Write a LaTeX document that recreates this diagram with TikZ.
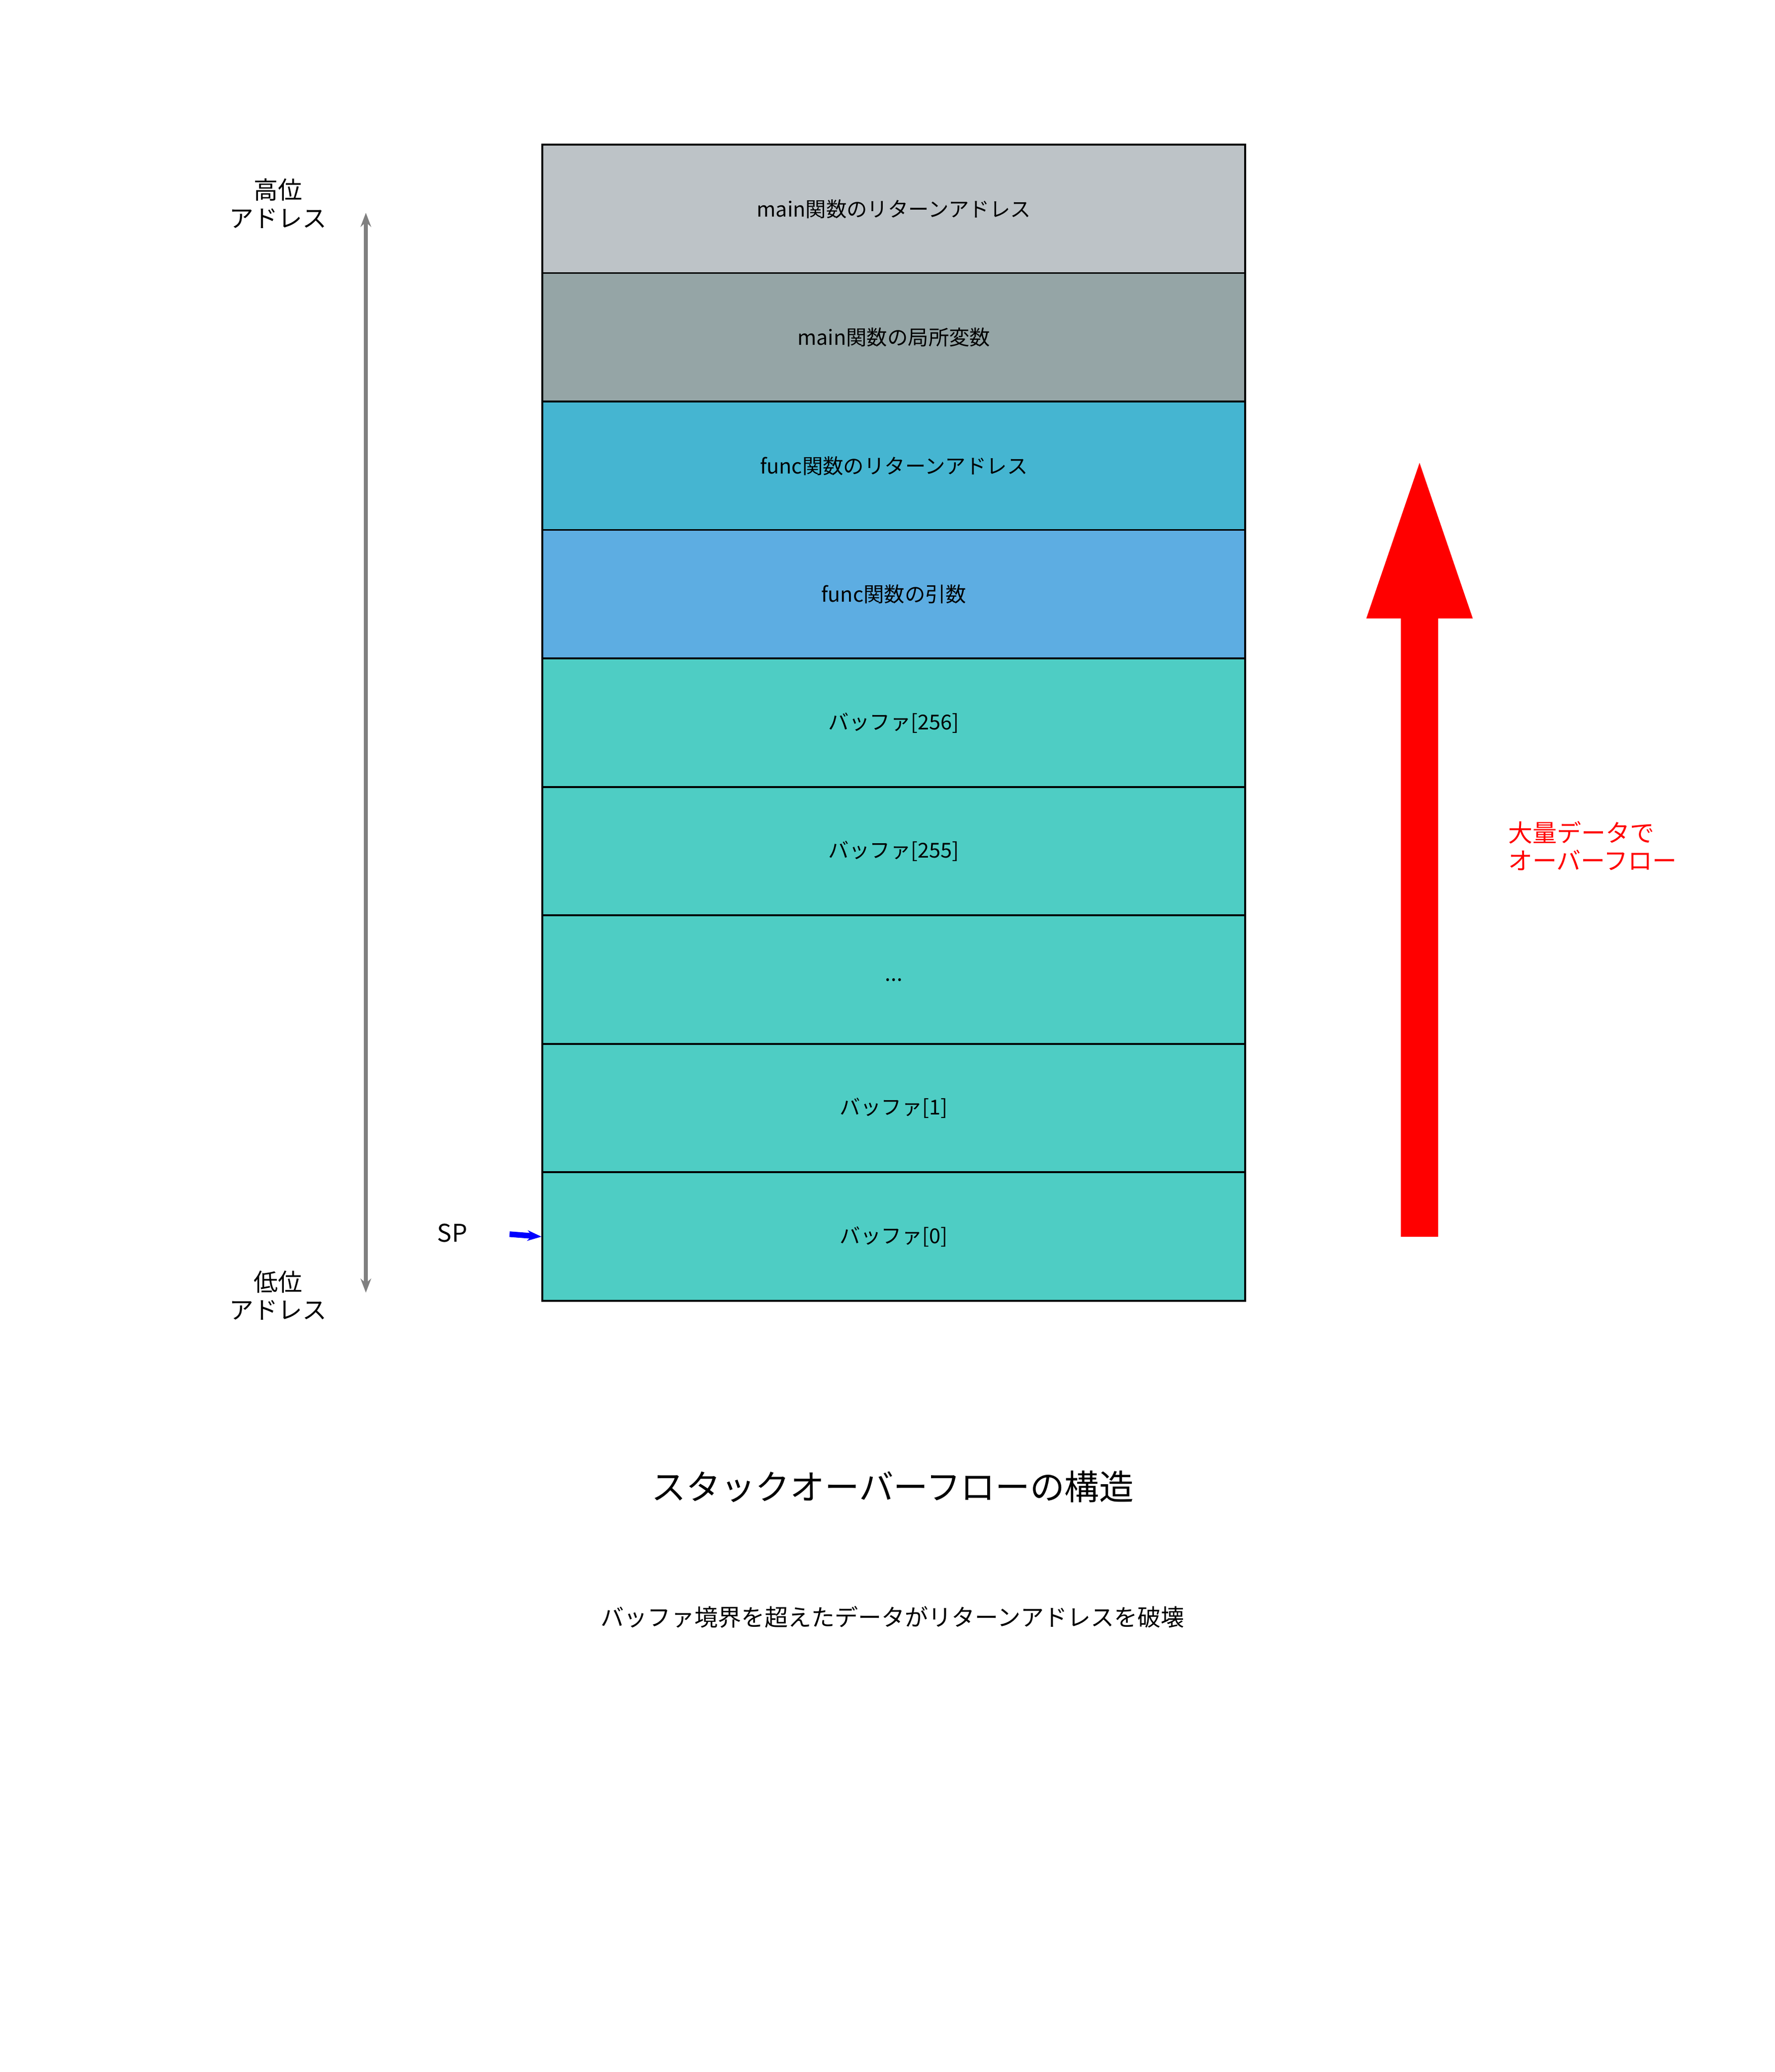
\documentclass[tikz,border=0pt]{standalone}
\usepackage{fontspec}
\setmainfont{Noto Sans CJK JP}
\usetikzlibrary{arrows.meta}
\definecolor{retgray}{HTML}{BDC3C7}
\definecolor{locgray}{HTML}{95A5A6}
\definecolor{retblue}{HTML}{45B5D1}
\definecolor{argblue}{HTML}{5DADE2}
\definecolor{bufteal}{HTML}{4ECDC4}
\newcommand{\ellip}{...}
\tikzset{
  cell/.style={draw, anchor=north west, minimum width=5.28cm, minimum height=0.967cm, inner sep=0pt, font=\fontsize{4.4}{5}\selectfont},
  lbl/.style={align=center, inner sep=0pt, font=\fontsize{5.2}{6}\selectfont}
}
\begin{document}
\begin{tikzpicture}[x=0.01cm, y=-0.01cm]
	\useasboundingbox (0,0) rectangle (1334,1558);
	% stack cells
	\foreach \i/\col/\txt in {0/retgray/main関数のリターンアドレス, 1/locgray/main関数の局所変数, 2/retblue/func関数のリターンアドレス, 3/argblue/func関数の引数, 4/bufteal/バッファ[256], 5/bufteal/バッファ[255], 6/bufteal/\ellip, 7/bufteal/バッファ[1], 8/bufteal/バッファ[0]}
		\node[cell, fill=\col] (c\i) at (407, 108+96.6*\i) {\txt};
	% address direction
	\node[lbl] (high) at (209,153) {高位\\アドレス};
	\node[lbl] (low) at (209,974) {低位\\アドレス};
	\coordinate (atop) at (275,160);
	\coordinate (abot) at (275,972);
	\draw[gray, line width=0.9pt, {Stealth[length=3pt]}-{Stealth[length=3pt]}] (atop) -- (abot);
	% stack pointer
	\node[lbl] (sp) at (340,927) {SP};
	\draw[blue, line width=1.2pt, -{Stealth[length=3pt]}] (383,928) -- (c8.west);
	% overflow arrow
	\fill[red] (1053,930) -- (1081,930) -- (1081,465) -- (1107,465) -- (1067,348) -- (1027,465) -- (1053,465) -- cycle;
	\node[lbl, red, anchor=west, align=left] (ovf) at (1133,636) {大量データで\\オーバーフロー};
	% captions
	\node[font=\fontsize{7.4}{9}\selectfont] (title) at (671,1118) {スタックオーバーフローの構造};
	\node[font=\fontsize{5}{6}\selectfont] (sub) at (671,1216) {バッファ境界を超えたデータがリターンアドレスを破壊};
\end{tikzpicture}
\end{document}
